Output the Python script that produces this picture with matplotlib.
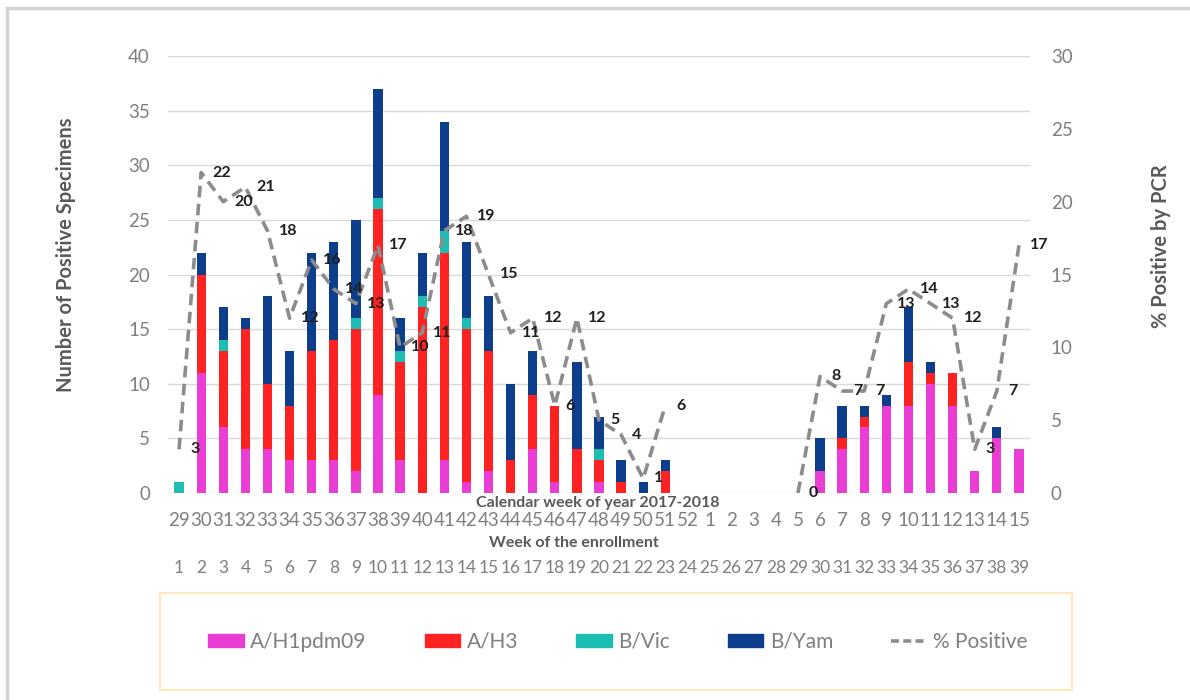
import matplotlib.pyplot as plt
import numpy as np
from matplotlib.patches import Patch, Rectangle
from matplotlib.lines import Line2D
from matplotlib import transforms

plt.rcParams['font.family'] = ['Lato', 'DejaVu Sans']

# calendar weeks 2017-2018 and the matching enrollment weeks
cal_weeks = [str(w) for w in range(29, 53)] + [str(w) for w in range(1, 16)]
enroll_weeks = [str(w) for w in range(1, 40)]

# positive specimens per subtype
h1pdm09 = [0, 11, 6, 4, 4, 3, 3, 3, 2, 9, 3, 0, 3, 1, 2, 0, 4, 1, 0, 1, 0, 0, 0, 0,
           0, 0, 0, 0, 0, 2, 4, 6, 8, 8, 10, 8, 2, 5, 4]
h3 = [0, 9, 7, 11, 6, 5, 10, 11, 13, 17, 9, 17, 19, 14, 11, 3, 5, 7, 4, 2, 1, 0, 2, 0,
      0, 0, 0, 0, 0, 0, 1, 1, 0, 4, 1, 3, 0, 0, 0]
b_vic = [1, 0, 1, 0, 0, 0, 0, 0, 1, 1, 1, 1, 2, 1, 0, 0, 0, 0, 0, 1, 0, 0, 0, 0,
         0, 0, 0, 0, 0, 0, 0, 0, 0, 0, 0, 0, 0, 0, 0]
b_yam = [0, 2, 3, 1, 8, 5, 9, 9, 9, 10, 3, 4, 10, 7, 5, 7, 4, 0, 8, 3, 2, 1, 1, 0,
         0, 0, 0, 0, 0, 3, 3, 1, 1, 5, 1, 0, 0, 1, 0]

# % positive by PCR (no enrollment in weeks 52-4)
pct_positive = [3, 22, 20, 21, 18, 12, 16, 14, 13, 17, 10, 11, 18, 19, 15, 11, 12, 6, 12, 5, 4, 1, 6,
                None, None, None, None, None,
                0, 8, 7, 7, 13, 14, 13, 12, 3, 7, 17]

colors = {'A/H1pdm09': '#EA3DD4', 'A/H3': '#FF2222', 'B/Vic': '#1DBDB4', 'B/Yam': '#0C3E8C'}
W, H = 1190, 700

fig = plt.figure(figsize=(W / 100, H / 100), dpi=100)
ax = fig.add_axes([168 / W, 1 - 493 / H, (1030 - 168) / W, (493 - 56) / H])
ax2 = ax.twinx()

x = np.arange(len(cal_weeks))
bottom = np.zeros(len(x))
for name, vals in zip(colors, [h1pdm09, h3, b_vic, b_yam]):
    vals = np.array(vals, dtype=float)
    ax.bar(x, vals, width=0.42, bottom=bottom, color=colors[name], zorder=2)
    bottom += vals

ax.set_xlim(-0.5, len(x) - 0.5)
ax.set_ylim(0, 40)
ax.set_yticks(np.arange(0, 41, 5))
ax.grid(axis='y', color='#d9d9d9', lw=1, zorder=0)
ax.set_axisbelow(True)
ax.tick_params(axis='y', length=0, pad=13, labelsize=13.5, labelcolor='#7f7f7f')
ax.set_xticks([])
for s in ax.spines.values():
    s.set_visible(False)

pct = np.array([np.nan if v is None else v for v in pct_positive], dtype=float)
ax2.plot(x, pct, color='#8c8c8c', lw=2.6, dashes=(3.2, 1.8), zorder=3)
for xi, v in zip(x, pct):
    if not np.isnan(v):
        ax2.text(xi + 0.5, v, f'{int(v)}', ha='left', va='center', fontsize=11.5,
                 fontweight='bold', color='#1f1f1f', zorder=4)
ax2.set_ylim(0, 30)
ax2.set_yticks(np.arange(0, 31, 5))
ax2.tick_params(axis='y', length=0, pad=15, labelsize=13.5, labelcolor='#7f7f7f')
for s in ax2.spines.values():
    s.set_visible(False)

# two rows of week labels under the bars
tr = transforms.blended_transform_factory(ax.transData, fig.transFigure)
for xi, cw, ew in zip(x, cal_weeks, enroll_weeks):
    ax.text(xi, 1 - 521 / H, cw, transform=tr, ha='center', va='center',
            fontsize=13.5, color='#7f7f7f')
    ax.text(xi, 1 - 568 / H, ew, transform=tr, ha='center', va='center',
            fontsize=12.5, color='#7f7f7f')
fig.text(598 / W, 1 - 503 / H, 'Calendar week of year 2017-2018', ha='center', va='center',
         fontsize=11.5, fontweight='bold', color='#595959')
fig.text(574 / W, 1 - 543 / H, 'Week of the enrollment', ha='center', va='center',
         fontsize=11.5, fontweight='bold', color='#595959')

fig.text(66 / W, 1 - 255 / H, 'Number of Positive Specimens', rotation=90, ha='center',
         va='center', fontsize=14.5, fontweight='bold', color='#595959')
fig.text(1161 / W, 1 - 246 / H, '% Positive by PCR', rotation=90, ha='center',
         va='center', fontsize=14.5, fontweight='bold', color='#595959')

# legend with its own box
handles = [Patch(color=c) for c in colors.values()]
handles.append(Line2D([], [], color='#8c8c8c', lw=2.6, dashes=(2.2, 1.2)))
labels = list(colors) + ['% Positive']
fig.legend(handles, labels, loc='center', bbox_to_anchor=(618 / W, 1 - 642 / H), ncol=5,
           frameon=False, fontsize=15, labelcolor='#7f7f7f', handlelength=1.7,
           handleheight=0.55, handletextpad=0.3, columnspacing=2.8)
fig.add_artist(Rectangle((160 / W, 10 / H), 912 / W, 97 / H, transform=fig.transFigure,
                         fill=False, edgecolor='#fbe9bf', lw=1.5))
fig.add_artist(Rectangle((7 / W, -0.1), 1.2, 1.1 - 8 / H, transform=fig.transFigure,
                         fill=False, edgecolor='#d4d4d4', lw=2.5))

fig.savefig('out.png', dpi=100)
